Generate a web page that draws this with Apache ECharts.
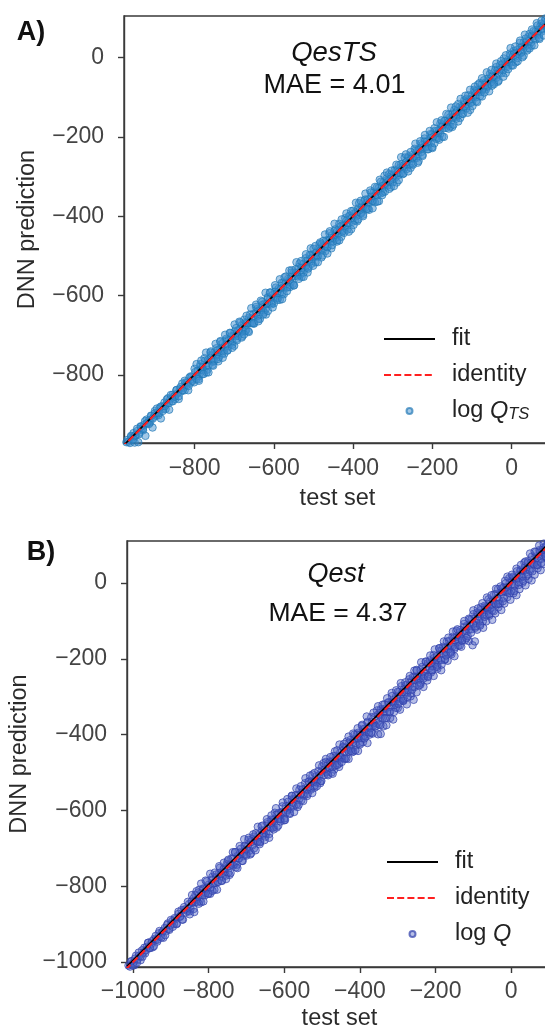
<!DOCTYPE html>
<html><head><meta charset="utf-8">
<script src="https://cdn.jsdelivr.net/npm/echarts@6/dist/echarts.min.js"></script>
<style>html,body{margin:0;padding:0;background:#fff}#c{width:545px;height:1030px}</style>
</head><body><div id="c"></div>
<script>
// ---------- data ----------
const ticksAx = [-800, -600, -400, -200, 0];
const ticksAy = [-800, -600, -400, -200, 0];
const ticksBx = [-1000, -800, -600, -400, -200, 0];
const ticksBy = [-1000, -800, -600, -400, -200, 0];
const titlesA = ['QesTS', 'MAE = 4.01'];
const titlesB = ['Qest', 'MAE = 4.37'];
const fitA = [[-978, -977], [99, 99]];
const identityA = [[-985, -985], [110, 110]];
const fitB = [[-1016, -1011], [108, 113]];
const identityB = [[-1020, -1020], [115, 115]];

// QesTS panel: [test set, DNN prediction] — core of the band
const pointsA = [
[-975,-973],[-972,-970],[-969,-964],[-966,-969],[-963,-972],[-960,-956],[-957,-958],[-954,-947],[-951,-971],[-948,-953],
[-945,-942],[-942,-970],[-939,-946],[-936,-930],[-933,-935],[-930,-940],[-927,-926],[-924,-954],[-921,-913],[-918,-922],
[-915,-915],[-912,-920],[-909,-904],[-906,-933],[-903,-906],[-900,-891],[-897,-903],[-894,-895],[-891,-902],[-888,-884],
[-885,-910],[-882,-880],[-879,-886],[-876,-870],[-873,-886],[-870,-873],[-867,-859],[-864,-888],[-861,-861],[-858,-867],
[-855,-850],[-852,-854],[-849,-861],[-846,-839],[-843,-847],[-840,-861],[-837,-836],[-834,-842],[-831,-822],[-828,-833],
[-825,-839],[-822,-819],[-819,-820],[-816,-839],[-813,-807],[-810,-820],[-807,-805],[-804,-811],[-801,-819],
[-798,-793],[-795,-804],[-792,-790],[-789,-804],[-786,-779],[-783,-787],[-780,-780],[-777,-789],[-774,-765],[-771,-777],
[-768,-787],[-765,-762],[-762,-764],[-759,-751],[-756,-766],[-753,-767],[-750,-744],[-747,-748],[-744,-751],[-741,-737],
[-738,-755],[-735,-734],[-732,-737],[-729,-720],[-726,-737],[-723,-726],[-720,-713],[-717,-738],[-714,-712],[-711,-719],
[-708,-703],[-705,-718],[-702,-702],[-699,-691],[-696,-702],[-693,-709],[-690,-687],[-687,-689],[-684,-693],[-681,-675],
[-678,-690],[-675,-671],[-672,-690],[-669,-668],[-666,-670],[-663,-656],[-660,-670],[-657,-658],[-654,-669],[-651,-646],
[-648,-655],[-645,-643],[-642,-634],[-639,-659],[-636,-636],[-633,-638],[-630,-624],[-627,-638],[-624,-621],[-621,-635],
[-618,-621],[-615,-606],[-612,-620],[-609,-608],[-606,-622],[-603,-599],[-600,-606],[-597,-590],[-594,-606],[-591,-593],
[-588,-583],[-585,-594],[-582,-582],[-579,-596],[-576,-568],[-573,-577],[-570,-568],[-567,-580],[-564,-558],[-561,-562],
[-558,-568],[-555,-552],[-552,-571],[-549,-542],[-546,-551],[-543,-543],[-540,-548],[-537,-528],[-534,-548],[-531,-530],
[-528,-531],[-525,-520],[-522,-533],[-519,-525],[-516,-512],[-513,-528],[-510,-508],[-507,-499],[-504,-513],[-501,-503],
[-498,-494],[-495,-502],[-492,-491],[-489,-500],[-486,-480],[-483,-486],[-480,-471],[-477,-486],[-474,-474],[-471,-476],
[-468,-461],[-465,-477],[-462,-459],[-459,-460],[-456,-464],[-453,-448],[-450,-454],[-447,-437],[-444,-454],[-441,-439],
[-438,-444],[-435,-427],[-432,-434],[-429,-440],[-426,-422],[-423,-423],[-420,-429],[-417,-411],[-414,-417],[-411,-418],
[-408,-399],[-405,-404],[-402,-414],[-399,-394],[-396,-401],[-393,-390],[-390,-398],[-387,-380],[-384,-385],[-381,-391],
[-378,-376],[-375,-379],[-372,-362],[-369,-378],[-366,-366],[-363,-357],[-360,-367],[-357,-359],[-354,-350],[-351,-362],
[-348,-340],[-345,-350],[-342,-341],[-339,-347],[-336,-329],[-333,-336],[-330,-342],[-327,-324],[-324,-315],[-321,-327],
[-318,-319],[-315,-310],[-312,-322],[-309,-307],[-306,-313],[-303,-295],[-300,-304],[-297,-297],[-294,-303],[-291,-285],
[-288,-290],[-285,-296],[-282,-278],[-279,-269],[-276,-282],[-273,-272],[-270,-278],[-267,-264],[-264,-269],[-261,-254],
[-258,-270],[-255,-255],[-252,-246],[-249,-252],[-246,-255],[-243,-234],[-240,-238],[-237,-244],[-234,-230],[-231,-232],
[-228,-238],[-225,-220],[-222,-226],[-219,-211],[-216,-224],[-213,-212],[-210,-216],[-207,-204],[-204,-215],[-201,-194],
[-198,-200],[-195,-185],[-192,-201],[-189,-185],[-186,-191],[-183,-183],[-180,-192],[-177,-171],[-174,-172],[-171,-178],
[-168,-160],[-165,-168],[-162,-163],[-159,-169],[-156,-151],[-153,-159],[-150,-141],[-147,-151],[-144,-143],[-141,-149],
[-138,-135],[-135,-146],[-132,-125],[-129,-131],[-126,-126],[-123,-132],[-120,-115],[-117,-122],[-114,-104],[-111,-118],
[-108,-106],[-105,-106],[-102,-114],[-99,-93],[-96,-100],[-93,-85],[-90,-100],[-87,-83],[-84,-87],[-81,-80],
[-78,-86],[-75,-66],[-72,-78],[-69,-69],[-66,-63],[-63,-74],[-60,-53],[-57,-59],[-54,-63],[-51,-46],
[-48,-47],[-45,-50],[-42,-32],[-39,-51],[-36,-32],[-33,-40],[-30,-28],[-27,-30],[-24,-16],[-21,-31],
[-18,-12],[-15,-16],[-12,-20],[-9,-6],[-6,-10],[-3,6],[0,-11],[3,3],[6,11],[9,3],
[12,19],[15,13],[18,9],[21,25],[24,12],[27,28],[30,38],[33,28],[36,38],[39,32],
[42,52],[45,42],[48,38],[51,56],[54,54],[57,49],[60,66],[63,59],[66,67],[69,58],
[72,79],[75,73],[78,81],[81,72],[84,93],[87,81],[90,92],[93,88],[96,100]
];
// QesTS panel: middle part of the band
const pointsA2 = [
[-960,-954],[-955,-963],[-950,-953],[-945,-936],[-940,-950],[-935,-931],[-930,-936],[-925,-917],[-920,-922],[-915,-924],
[-910,-903],[-905,-910],[-900,-897],[-895,-885],[-890,-897],[-885,-880],[-880,-891],[-875,-879],[-870,-862],[-865,-871],
[-860,-851],[-855,-867],[-850,-855],[-845,-838],[-840,-854],[-835,-831],[-830,-839],[-825,-815],[-820,-826],[-815,-828],
[-810,-804],[-805,-815],[-800,-785],[-795,-810],[-790,-811],[-785,-773],[-780,-798],[-775,-758],[-770,-794],[-765,-776],
[-760,-744],[-755,-775],[-750,-764],[-745,-733],[-740,-766],[-735,-717],[-730,-746],[-725,-747],[-720,-709],[-715,-728],
[-710,-695],[-705,-724],[-700,-727],[-695,-682],[-690,-702],[-685,-668],[-680,-703],[-675,-661],[-670,-687],[-665,-690],
[-660,-648],[-655,-670],[-650,-671],[-645,-629],[-640,-651],[-635,-659],[-630,-616],[-625,-643],[-620,-648],[-615,-604],
[-610,-593],[-605,-618],[-600,-620],[-595,-580],[-590,-606],[-585,-611],[-580,-568],[-575,-597],[-570,-552],[-565,-579],
[-560,-579],[-555,-542],[-550,-575],[-545,-534],[-540,-552],[-535,-519],[-530,-553],[-525,-542],[-520,-506],[-515,-542],
[-510,-498],[-505,-520],[-500,-482],[-495,-516],[-490,-501],[-485,-470],[-480,-504],[-475,-462],[-470,-488],[-465,-478],
[-460,-443],[-455,-481],[-450,-464],[-445,-433],[-440,-460],[-435,-419],[-430,-452],[-425,-437],[-420,-405],[-415,-434],
[-410,-399],[-405,-433],[-400,-386],[-395,-411],[-390,-413],[-385,-367],[-380,-393],[-375,-396],[-370,-358],[-365,-382],
[-360,-384],[-355,-340],[-350,-361],[-345,-365],[-340,-327],[-335,-362],[-330,-313],[-325,-340],[-320,-338],[-315,-304],
[-310,-294],[-305,-327],[-300,-314],[-295,-283],[-290,-315],[-285,-271],[-280,-292],[-275,-294],[-270,-252],[-265,-281],
[-260,-249],[-255,-278],[-250,-267],[-245,-230],[-240,-253],[-235,-261],[-230,-217],[-225,-245],[-220,-204],[-215,-226],
[-210,-231],[-205,-193],[-200,-228],[-195,-178],[-190,-205],[-185,-203],[-180,-166],[-175,-199],[-170,-159],[-165,-177],
[-160,-144],[-155,-174],[-150,-175],[-145,-132],[-140,-154],[-135,-117],[-130,-152],[-125,-141],[-120,-108],[-115,-128],
[-110,-95],[-105,-132],[-100,-111],[-95,-81],[-90,-110],[-85,-68],[-80,-97],[-75,-98],[-70,-57],[-65,-80],
[-60,-72],[-55,-41],[-50,-71],[-45,-63],[-40,-24],[-35,-61],[-30,-19],[-25,-39],[-20,-2],[-15,-39],
[-10,-23],[-5,10],[0,-19],[5,17],[10,-12],[15,-1],[20,37],[25,14],[30,5],[35,48],
[40,23],[45,60],[50,30],[55,67],[60,46],[65,81],[70,47],[75,86],[80,68],[85,99],[90,72],[95,108]
];
// QesTS panel: outer edge of the band
const pointsA3 = [
[-795,-773],[-789,-815],[-783,-764],[-777,-798],[-771,-744],[-765,-794],[-759,-741],[-753,-777],[-747,-722],[-741,-760],
[-735,-715],[-729,-757],[-723,-699],[-717,-739],[-711,-694],[-705,-732],[-699,-673],[-693,-713],[-687,-666],[-681,-706],
[-675,-698],[-669,-651],[-663,-692],[-657,-632],[-651,-670],[-645,-623],[-639,-665],[-633,-613],[-627,-648],[-621,-593],
[-615,-639],[-609,-592],[-603,-630],[-597,-574],[-591,-611],[-585,-559],[-579,-609],[-573,-554],[-567,-589],[-561,-537],
[-555,-536],[-549,-574],[-543,-516],[-537,-558],[-531,-513],[-525,-553],[-519,-496],[-513,-532],[-507,-481],[-501,-525],
[-495,-475],[-489,-516],[-483,-466],[-477,-499],[-471,-446],[-465,-494],[-459,-438],[-453,-473],[-447,-419],[-441,-464],
[-435,-461],[-429,-408],[-423,-442],[-417,-393],[-411,-439],[-405,-387],[-399,-422],[-393,-366],[-387,-408],[-381,-361],
[-375,-400],[-369,-343],[-363,-381],[-357,-335],[-351,-380],[-345,-326],[-339,-363],[-333,-308],[-327,-347],[-321,-298],
[-315,-290],[-309,-331],[-303,-285],[-297,-324],[-291,-270],[-285,-309],[-279,-251],[-273,-292],[-267,-244],[-261,-287],
[-255,-238],[-249,-270],[-243,-217],[-237,-265],[-231,-211],[-225,-248],[-219,-195],[-213,-231],[-207,-185],[-201,-226],
[-195,-216],[-189,-163],[-183,-207],[-177,-158],[-171,-200],[-165,-142],[-159,-179],[-153,-126],[-147,-169],[-141,-123],
[-135,-161],[-129,-104],[-123,-142],[-117,-96],[-111,-139],[-105,-81],[-99,-122],[-93,-73],[-87,-112],[-81,-64],
[-75,-52],[-69,-88],[-63,-37],[-57,-85],[-51,-31],[-45,-67],[-39,-15],[-33,-58],[-27,-9],[-21,-48],
[-15,6],[-9,-29],[-3,24],[3,-20],[9,28],[15,-9],[21,43],[27,1],[33,58],[39,18],
[45,23],[51,71],[57,31],[63,87],[69,50],[75,93],[81,56],[87,108],[93,73]
];

// Qest panel: [test set, DNN prediction] — core of the band
const pointsB = [
[-1012,-1009],[-1008,-1012],[-1004,-998],[-1000,-1002],[-996,-1008],[-992,-983],[-988,-993],[-984,-983],[-980,-995],[-976,-969],
[-972,-975],[-968,-977],[-964,-960],[-960,-949],[-956,-963],[-952,-952],[-948,-961],[-944,-939],[-940,-941],[-936,-946],
[-932,-924],[-928,-932],[-924,-922],[-920,-936],[-916,-910],[-912,-918],[-908,-898],[-904,-915],[-900,-902],[-896,-892],
[-892,-900],[-888,-887],[-884,-898],[-880,-873],[-876,-881],[-872,-863],[-868,-888],[-864,-861],[-860,-861],[-856,-865],
[-852,-847],[-848,-860],[-844,-844],[-840,-832],[-836,-842],[-832,-835],[-828,-817],[-824,-839],[-820,-818],[-816,-823],
[-812,-806],[-808,-818],[-804,-805],[-800,-796],[-796,-820],[-792,-783],[-788,-792],[-784,-792],[-780,-777],[-776,-789],
[-772,-765],[-768,-768],[-764,-775],[-760,-755],[-756,-761],[-752,-742],[-748,-764],[-744,-743],[-740,-743],[-736,-728],
[-732,-741],[-728,-750],[-724,-720],[-720,-727],[-716,-710],[-712,-713],[-708,-720],[-704,-695],[-700,-704],[-696,-694],
[-692,-706],[-688,-683],[-684,-692],[-680,-669],[-676,-678],[-672,-682],[-668,-665],[-664,-682],[-660,-653],[-656,-661],
[-652,-652],[-648,-661],[-644,-636],[-640,-643],[-636,-645],[-632,-626],[-628,-643],[-624,-622],[-620,-610],[-616,-622],
[-612,-623],[-608,-604],[-604,-605],[-600,-626],[-596,-589],[-592,-599],[-588,-587],[-584,-596],[-580,-571],[-576,-580],
[-572,-569],[-568,-584],[-564,-559],[-560,-569],[-556,-556],[-552,-544],[-548,-561],[-544,-542],[-540,-546],[-536,-525],
[-532,-542],[-528,-524],[-524,-526],[-520,-534],[-516,-510],[-512,-520],[-508,-507],[-504,-523],
[-500,-494],[-496,-500],[-492,-491],[-488,-499],[-484,-475],[-480,-487],[-476,-473],[-472,-485],[-468,-468],[-464,-456],
[-460,-462],[-456,-465],[-452,-447],[-448,-462],[-444,-434],[-440,-445],[-436,-434],[-432,-440],[-428,-421],[-424,-436],
[-420,-421],[-416,-412],[-412,-422],[-408,-399],[-404,-410],[-400,-400],[-396,-409],[-392,-386],[-388,-385],[-384,-392],
[-380,-369],[-376,-379],[-372,-383],[-368,-366],[-364,-370],[-360,-352],[-356,-370],[-352,-347],[-348,-349],[-344,-353],
[-340,-333],[-336,-340],[-332,-331],[-328,-340],[-324,-314],[-320,-327],[-316,-312],[-312,-314],[-308,-318],[-304,-298],
[-300,-305],[-296,-287],[-292,-305],[-288,-288],[-284,-281],[-280,-288],[-276,-268],[-272,-283],[-268,-269],[-264,-259],
[-260,-274],[-256,-249],[-252,-255],[-248,-246],[-244,-253],[-240,-230],[-236,-242],[-232,-233],[-228,-240],[-224,-220],
[-220,-212],[-216,-224],[-212,-212],[-208,-219],[-204,-198],[-200,-204],[-196,-193],[-192,-205],[-188,-179],[-184,-186],
[-180,-187],[-176,-171],[-172,-182],[-168,-167],[-164,-153],[-160,-165],[-156,-168],[-152,-145],[-148,-151],[-144,-142],
[-140,-149],[-136,-130],[-132,-146],[-128,-128],[-124,-116],[-120,-126],[-116,-112],[-112,-123],[-108,-109],[-104,-94],
[-100,-108],[-96,-93],[-92,-105],[-88,-82],[-84,-88],[-80,-71],[-76,-78],[-72,-82],[-68,-63],[-64,-64],
[-60,-72],[-56,-49],[-52,-58],[-48,-46],[-44,-53],[-40,-29],[-36,-39],[-32,-46],[-28,-24],[-24,-25],
[-20,-12],[-16,-23],[-12,-11],[-8,-19],[-4,2],[0,-5],[4,14],[8,-5],[12,15],[16,14],
[20,12],[24,31],[28,18],[32,32],[36,41],[40,34],[44,53],[48,36],[52,54],[56,52],
[60,51],[64,70],[68,67],[72,59],[76,84],[80,75],[84,87],[88,78],[92,96],[96,89],[100,102],[104,101],
[-468,-492],[-455,-485],[-441,-463],[-430,-464],[-418,-444],[-405,-443],[-392,-420],[-380,-422],[-366,-397],[-352,-399],
[-345,-398],[-338,-378],[-330,-375],[-320,-356],[-312,-360],[-300,-330],[-294,-334],[-285,-311],[-276,-320],[-266,-299],
[-258,-308],[-250,-288],[-240,-268],[-232,-274],[-222,-257],[-212,-236],[-205,-245],[-195,-226],[-185,-230],[-176,-203],
[-168,-205],[-158,-188],[-150,-193],[-140,-165],[-132,-168],[-122,-151],[-112,-153],[-102,-164],[-96,-154],[-90,-123],
[-82,-108],[-74,-118],[-66,-101],[-58,-86],[-50,-97],[-42,-80],[-34,-64],[-26,-71],[-18,-54],[-10,-37],
[-2,-44],[6,-27],[14,-32],[22,-16],[30,1],[38,-6],[46,11],[54,7],[62,22],[70,39],
[78,34],[86,50],[94,67],[100,59]
];
// Qest panel: middle part of the band
const pointsB2 = [
[-1005,-998],[-1000,-1009],[-995,-991],[-990,-1002],[-985,-975],[-980,-985],[-975,-986],[-970,-962],[-965,-968],[-960,-949],
[-955,-963],[-950,-945],[-945,-958],[-940,-931],[-935,-941],[-930,-918],[-925,-935],[-920,-917],[-915,-929],[-910,-902],
[-905,-912],[-900,-889],[-895,-907],[-890,-884],[-885,-900],[-880,-867],[-875,-879],[-870,-888],[-865,-855],[-860,-869],
[-855,-841],[-850,-866],[-845,-840],[-840,-860],[-835,-823],[-830,-841],[-825,-809],[-820,-842],[-815,-806],[-810,-824],
[-805,-787],[-800,-819],[-795,-803],[-790,-775],[-785,-809],[-780,-769],[-775,-788],[-770,-751],[-765,-786],[-760,-753],
[-755,-772],[-750,-734],[-745,-770],[-740,-727],[-735,-745],[-730,-710],[-725,-743],[-720,-726],[-715,-701],[-710,-733],
[-705,-693],[-700,-715],[-695,-678],[-690,-716],[-685,-676],[-680,-700],[-675,-660],[-670,-682],[-665,-689],[-660,-642],
[-655,-664],[-650,-669],[-645,-631],[-640,-662],[-635,-624],[-630,-646],[-625,-606],[-620,-645],[-615,-607],[-610,-623],
[-605,-589],[-600,-621],[-595,-605],[-590,-577],[-585,-609],[-580,-561],[-575,-589],[-570,-560],[-565,-591],[-560,-545],
[-555,-573],[-550,-558],[-545,-528],[-540,-562],[-535,-523],[-530,-545],[-525,-505],[-520,-540],[-515,-526],[-510,-496],
[-505,-528],[-500,-484],[-495,-507],[-490,-472],[-485,-504],[-480,-471],[-475,-500],[-470,-456],[-465,-481],[-460,-441],
[-455,-476],[-450,-459],[-445,-432],[-440,-464],[-435,-418],[-430,-444],[-425,-414],[-420,-446],[-415,-400],[-410,-428],
[-405,-395],[-400,-422],[-395,-377],[-390,-403],[-385,-405],[-380,-366],[-375,-400],[-370,-354],[-365,-376],[-360,-378],
[-355,-336],[-350,-373],[-345,-333],[-340,-356],[-335,-320],[-330,-356],[-325,-316],[-320,-340],[-315,-298],[-310,-322],
[-305,-329],[-300,-287],[-295,-312],[-290,-272],[-285,-306],[-280,-270],[-275,-289],[-270,-254],[-265,-291],[-260,-248],
[-255,-274],[-250,-231],[-245,-256],[-240,-263],[-235,-221],[-230,-246],[-225,-208],[-220,-245],[-215,-204],[-210,-230],
[-205,-190],[-200,-213],[-195,-217],[-190,-172],[-185,-203],[-180,-168],[-175,-201],[-170,-154],[-165,-175],[-160,-181],
[-155,-142],[-150,-174],[-145,-126],[-140,-155],[-135,-124],[-130,-150],[-125,-108],[-120,-132],[-115,-140],[-110,-96],
[-105,-122],[-100,-82],[-95,-118],[-90,-78],[-85,-99],[-80,-64],[-75,-101],[-70,-60],[-65,-84],[-60,-43],
[-55,-67],[-50,-72],[-45,-30],[-40,-56],[-35,-16],[-30,-54],[-25,-14],[-20,-40],[-15,-1],[-10,-23],
[-5,13],[0,-21],[5,17],[10,-7],[15,31],[20,-5],[25,35],[30,16],[35,54],[40,18],
[45,58],[50,32],[55,70],[60,49],[65,82],[70,47],[75,87],[80,64],[85,93],[90,71],[95,101],[100,88]
];
// Qest panel: outer edge of the band
const pointsB3 = [
[-850,-874],[-844,-823],[-838,-868],[-832,-813],[-826,-846],[-820,-793],[-814,-840],[-808,-785],[-802,-820],[-796,-767],
[-790,-812],[-784,-764],[-778,-809],[-772,-747],[-766,-785],[-760,-738],[-754,-781],[-748,-730],[-742,-765],[-736,-710],
[-730,-710],[-724,-752],[-718,-694],[-712,-733],[-706,-676],[-700,-719],[-694,-672],[-688,-713],[-682,-663],[-676,-705],
[-670,-643],[-664,-684],[-658,-640],[-652,-678],[-646,-623],[-640,-672],[-634,-613],[-628,-650],[-622,-594],[-616,-640],
[-610,-629],[-604,-579],[-598,-625],[-592,-570],[-586,-607],[-580,-562],[-574,-604],[-568,-542],[-562,-585],[-556,-536],
[-550,-575],[-544,-515],[-538,-556],[-532,-508],[-526,-554],[-520,-501],[-514,-536],[-508,-481],[-502,-522],[-496,-475],
[-490,-464],[-484,-507],[-478,-459],[-472,-503],[-466,-444],[-460,-480],[-454,-426],[-448,-472],[-442,-424],[-436,-463],
[-430,-405],[-424,-443],[-418,-397],[-412,-441],[-406,-383],[-400,-426],[-394,-374],[-388,-410],[-382,-352],[-376,-394],
[-370,-395],[-364,-342],[-358,-378],[-352,-325],[-346,-375],[-340,-321],[-334,-357],[-328,-304],[-322,-340],[-316,-290],
[-310,-340],[-304,-283],[-298,-319],[-292,-264],[-286,-310],[-280,-262],[-274,-301],[-268,-245],[-262,-281],[-256,-231],
[-250,-229],[-244,-270],[-238,-209],[-232,-252],[-226,-207],[-220,-248],[-214,-191],[-208,-230],[-202,-175],[-196,-221],
[-190,-172],[-184,-215],[-178,-154],[-172,-191],[-166,-144],[-160,-184],[-154,-128],[-148,-169],[-142,-122],[-136,-165],
[-130,-152],[-124,-100],[-118,-145],[-112,-94],[-106,-131],[-100,-72],[-94,-114],[-88,-67],[-82,-112],[-76,-53],
[-70,-89],[-64,-38],[-58,-82],[-52,-32],[-46,-74],[-40,-15],[-34,-55],[-28,-9],[-22,-48],[-16,6],
[-10,17],[-4,-27],[2,22],[8,-21],[14,38],[20,2],[26,48],[32,6],[38,57],[44,23],
[50,78],[56,31],[62,83],[68,48],[74,99],[80,53],[86,104],[92,70],[98,108]
];

// ---------- chart ----------
const FONT = 'Liberation Sans';
const AX = '#3a3a3a';
function fmt(v) { return v < 0 ? '\u2212' + Math.abs(v) : String(v); }

function xAx(grid, min, max, ticks, gap, margin) {
  return {
    type: 'value', gridIndex: grid, min: min, max: max,
    name: 'test set', nameLocation: 'middle', nameGap: gap,
    nameTextStyle: { fontFamily: FONT, fontSize: 23.5, color: '#2b2b2b' },
    axisLine: { show: true, onZero: false, lineStyle: { color: AX, width: 1.4 } },
    axisTick: { show: true, length: 6, customValues: ticks, lineStyle: { color: AX, width: 1.4 } },
    axisLabel: { customValues: ticks, formatter: fmt, margin: margin, fontFamily: FONT, fontSize: 23, color: '#444' },
    splitLine: { show: false }
  };
}
function yAx(grid, min, max, ticks, gap, margin) {
  return {
    type: 'value', gridIndex: grid, min: min, max: max,
    name: 'DNN prediction', nameLocation: 'middle', nameGap: gap,
    nameTextStyle: { fontFamily: FONT, fontSize: 23.5, color: '#2b2b2b' },
    axisLine: { show: true, onZero: false, lineStyle: { color: AX, width: 1.4 } },
    axisTick: { show: true, length: 6, customValues: ticks, lineStyle: { color: AX, width: 1.4 } },
    axisLabel: { customValues: ticks, formatter: fmt, margin: margin, fontFamily: FONT, fontSize: 23, color: '#444' },
    splitLine: { show: false }
  };
}
const RICH = {
  n: { fontFamily: FONT, fontSize: 23.5, lineHeight: 24, color: '#222' },
  q: { fontFamily: FONT, fontSize: 23.5, lineHeight: 24, fontStyle: 'italic', color: '#222' },
  s: { fontFamily: FONT, fontSize: 16.5, lineHeight: 12, fontStyle: 'italic', verticalAlign: 'bottom', color: '#222' }
};
function legendFmt(name) {
  if (name === 'log Q_TS') return '{n|log }{q|Q}{s|TS}';
  if (name === 'log Q') return '{n|log }{q|Q}';
  return name;
}
function legendOf(names, left, top) {
  return {
    data: names, orient: 'vertical', left: left, top: top, padding: 0,
    itemWidth: 51, itemHeight: 6, itemGap: 12, selectedMode: false,
    textStyle: { fontFamily: FONT, fontSize: 23.5, color: '#222', lineHeight: 24, padding: [0, 0, 0, 12], rich: RICH },
    formatter: legendFmt
  };
}
function titleOf(text, x, y, size, style, weight) {
  return {
    text: text, left: x, top: y, textAlign: 'center', textVerticalAlign: 'middle', padding: 0,
    textStyle: { fontFamily: FONT, fontSize: size, fontStyle: style || 'normal', fontWeight: weight || 'normal', color: '#111' }
  };
}
const gridStyle = { show: true, borderColor: AX, borderWidth: 1.4, containLabel: false, outerBoundsMode: 'none' };
const noMarker = { color: 'rgba(0,0,0,0)', borderColor: 'rgba(0,0,0,0)', borderWidth: 0 };

const option = {
  animation: false,
  backgroundColor: '#ffffff',
  title: [
    titleOf('A)', 31, 32.5, 27, 'normal', 'bold'),
    titleOf(titlesA[0], 334, 53.5, 27.5, 'italic'),
    titleOf(titlesA[1], 334.5, 86, 27),
    titleOf('B)', 41, 552.5, 27, 'normal', 'bold'),
    titleOf(titlesB[0], 336, 574, 27, 'italic'),
    titleOf(titlesB[1], 338, 613.5, 26.5)
  ],
  grid: [
    Object.assign({ left: 124, top: 16, width: 427, height: 427 }, gridStyle),
    Object.assign({ left: 127, top: 541, width: 425, height: 426 }, gridStyle)
  ],
  xAxis: [xAx(0, -978, 99, ticksAx, 44, 14), xAx(1, -1016, 108, ticksBx, 40, 13)],
  yAxis: [yAx(0, -972, 105, ticksAy, 84, 20), yAx(1, -1013, 111, ticksBy, 88, 20)],
  legend: [
    legendOf(['fit', 'identity', 'log Q_TS'], 383, 327),
    legendOf(['fit', 'identity', 'log Q'], 386, 850)
  ],
  series: [
    { type: 'scatter', name: 'log Q_TS', xAxisIndex: 0, yAxisIndex: 0, data: pointsA.concat(pointsA2, pointsA3), symbol: 'circle', symbolSize: 7.5, z: 2,
      itemStyle: { color: 'rgba(60,140,205,0.6)', borderColor: 'rgba(31,119,180,0.85)', borderWidth: 1 } },
    { type: 'line', name: 'fit', xAxisIndex: 0, yAxisIndex: 0, data: fitA, symbol: 'none', z: 3,
      itemStyle: noMarker, lineStyle: { color: '#000', width: 1.7 } },
    { type: 'line', name: 'identity', xAxisIndex: 0, yAxisIndex: 0, data: identityA, symbol: 'none', z: 4,
      itemStyle: noMarker, lineStyle: { color: '#ff1f1f', width: 2, type: [7, 3.2] } },
    { type: 'scatter', name: 'log Q', xAxisIndex: 1, yAxisIndex: 1, data: pointsB.concat(pointsB2, pointsB3), symbol: 'circle', symbolSize: 7.5, z: 2,
      itemStyle: { color: 'rgba(75,95,195,0.5)', borderColor: 'rgba(50,65,170,0.9)', borderWidth: 1 } },
    { type: 'line', name: 'fit', xAxisIndex: 1, yAxisIndex: 1, data: fitB, symbol: 'none', z: 3,
      itemStyle: noMarker, lineStyle: { color: '#000', width: 1.7 } },
    { type: 'line', name: 'identity', xAxisIndex: 1, yAxisIndex: 1, data: identityB, symbol: 'none', z: 4,
      itemStyle: noMarker, lineStyle: { color: '#ff1f1f', width: 2, type: [7, 3.2] } }
  ]
};
const chart = echarts.init(document.getElementById('c'), null, { renderer: 'canvas' });
chart.setOption(option);
</script>
</body></html>
